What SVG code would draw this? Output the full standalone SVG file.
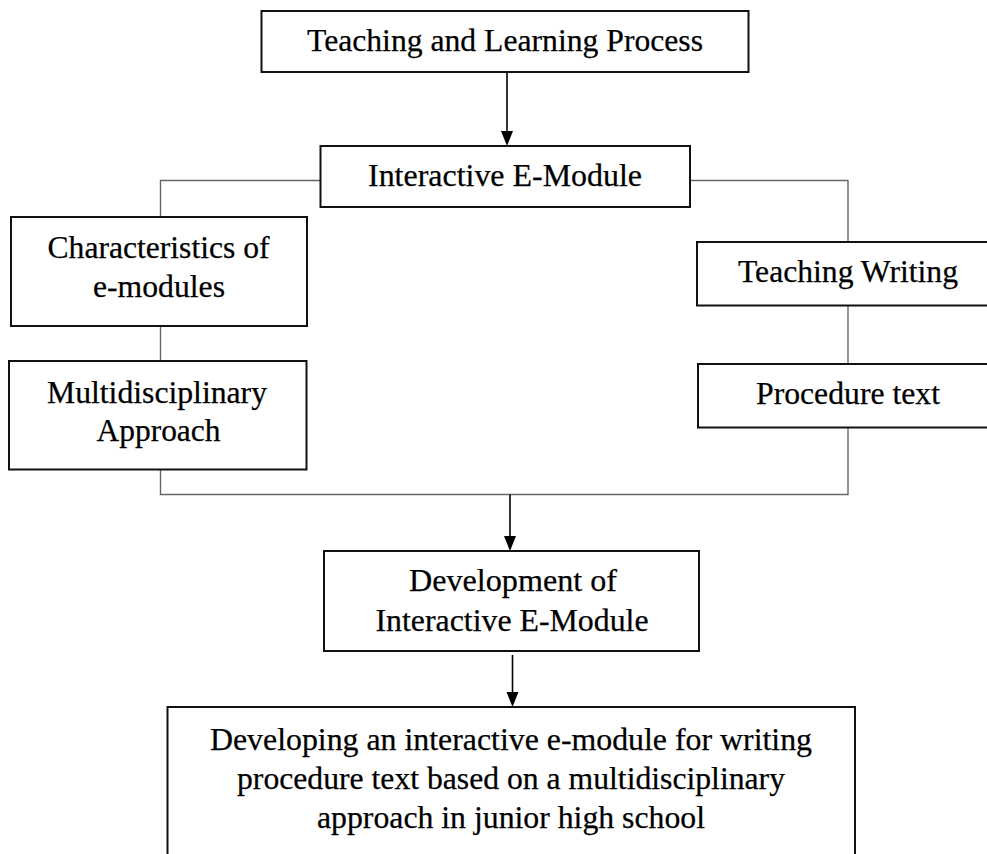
<svg xmlns="http://www.w3.org/2000/svg" width="987" height="854" viewBox="0 0 987 854">
<defs>
<style>
.box{fill:#fff;stroke:#111;stroke-width:2}
.t{font-family:"Liberation Serif","Times New Roman",serif;font-size:31px;fill:#000;stroke:#000;stroke-width:0.25;text-anchor:middle}
.ln{fill:none;stroke:#666;stroke-width:1.4}
.ar{fill:none;stroke:#000;stroke-width:1.6}
.hd{fill:#000}
</style>
</defs>
<g id="connectors">
<path class="ar" d="M507,72 V131"/>
<path class="hd" d="M501,131 L513,131 L507,146 Z"/>
<path class="ln" d="M320,180.5 H160.5 V217"/>
<path class="ln" d="M690,180.5 H848 V242"/>
<path class="ln" d="M160.5,326 V361"/>
<path class="ln" d="M848,306 V364"/>
<path class="ln" d="M160.5,470 V494.5 H848 V428" stroke-width="2"/>
<path class="ar" d="M510,494.5 V536"/>
<path class="hd" d="M504,536 L516,536 L510,551 Z"/>
<path class="ar" d="M512.5,655 V692"/>
<path class="hd" d="M506.5,692 L518.5,692 L512.5,707 Z"/>
</g>
<g id="n-teaching-learning">
<rect class="box" x="261.5" y="11" width="487" height="61"/>
<text class="t" x="505" y="51" textLength="396" lengthAdjust="spacingAndGlyphs">Teaching and Learning Process</text>
</g>
<g id="n-interactive">
<rect class="box" x="320.5" y="146" width="369.5" height="61"/>
<text class="t" x="505" y="186" textLength="274" lengthAdjust="spacingAndGlyphs">Interactive E-Module</text>
</g>
<g id="n-characteristics">
<rect class="box" x="11" y="217" width="296" height="109"/>
<text class="t" x="158.5" y="258" textLength="222" lengthAdjust="spacingAndGlyphs">Characteristics of</text>
<text class="t" x="159" y="297" textLength="132" lengthAdjust="spacingAndGlyphs">e-modules</text>
</g>
<g id="n-multidisciplinary">
<rect class="box" x="9" y="361" width="297.5" height="108.5"/>
<text class="t" x="157" y="403" textLength="220" lengthAdjust="spacingAndGlyphs">Multidisciplinary</text>
<text class="t" x="158.5" y="441" textLength="124" lengthAdjust="spacingAndGlyphs">Approach</text>
</g>
<g id="n-teaching-writing">
<rect class="box" x="697" y="242" width="310" height="63.5"/>
<text class="t" x="848" y="282" textLength="220" lengthAdjust="spacingAndGlyphs">Teaching Writing</text>
</g>
<g id="n-procedure">
<rect class="box" x="698" y="364" width="310" height="63.5"/>
<text class="t" x="848" y="404" textLength="184" lengthAdjust="spacingAndGlyphs">Procedure text</text>
</g>
<g id="n-development">
<rect class="box" x="324" y="551" width="375" height="100"/>
<text class="t" x="513" y="591" textLength="208" lengthAdjust="spacingAndGlyphs">Development of</text>
<text class="t" x="512" y="631" textLength="273" lengthAdjust="spacingAndGlyphs">Interactive E-Module</text>
</g>
<g id="n-developing">
<rect class="box" x="167.5" y="707" width="687.5" height="170"/>
<text class="t" x="511" y="750" textLength="602" lengthAdjust="spacingAndGlyphs">Developing an interactive e-module for writing</text>
<text class="t" x="511" y="789" textLength="548" lengthAdjust="spacingAndGlyphs">procedure text based on a multidisciplinary</text>
<text class="t" x="511" y="828" textLength="388" lengthAdjust="spacingAndGlyphs">approach in junior high school</text>
</g>
</svg>
